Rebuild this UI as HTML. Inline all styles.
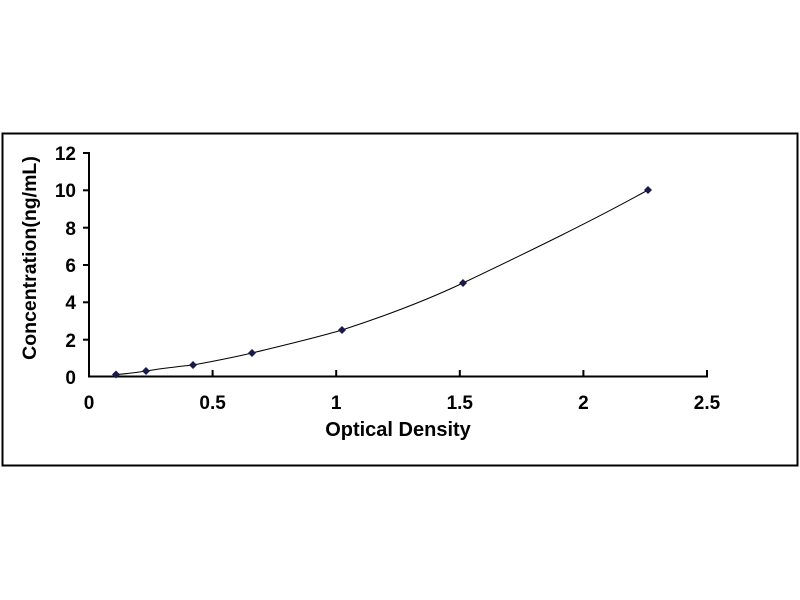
<!DOCTYPE html>
<html><head><meta charset="utf-8"><style>
body{margin:0;background:#fff;}
svg{display:block;font-family:"Liberation Sans",Arial,sans-serif;font-weight:bold;}
</style></head><body>
<svg width="800" height="600" viewBox="0 0 800 600">
<rect x="2.5" y="133.5" width="795" height="332" fill="#fff" stroke="#000" stroke-width="2"/>
<g stroke="#000" stroke-width="2" fill="none">
<line x1="89" y1="152" x2="89" y2="377"/>
<line x1="88" y1="376.5" x2="708" y2="376.5"/>
<line x1="83" y1="153" x2="89" y2="153"/>
<line x1="83" y1="190.3" x2="89" y2="190.3"/>
<line x1="83" y1="227.7" x2="89" y2="227.7"/>
<line x1="83" y1="265" x2="89" y2="265"/>
<line x1="83" y1="302.3" x2="89" y2="302.3"/>
<line x1="83" y1="339.7" x2="89" y2="339.7"/>
<line x1="212.6" y1="370" x2="212.6" y2="377"/>
<line x1="336.2" y1="370" x2="336.2" y2="377"/>
<line x1="459.8" y1="370" x2="459.8" y2="377"/>
<line x1="583.4" y1="370" x2="583.4" y2="377"/>
<line x1="707" y1="370" x2="707" y2="377"/>
</g>
<g font-size="19" text-anchor="end" fill="#000">
<text x="76" y="160">12</text>
<text x="76" y="197">10</text>
<text x="76" y="235">8</text>
<text x="76" y="272">6</text>
<text x="76" y="309">4</text>
<text x="76" y="347">2</text>
<text x="76" y="384">0</text>
</g>
<g font-size="19" text-anchor="middle" fill="#000">
<text x="89" y="409">0</text>
<text x="212.6" y="409">0.5</text>
<text x="336.2" y="409">1</text>
<text x="459.8" y="409">1.5</text>
<text x="583.4" y="409">2</text>
<text x="707" y="409">2.5</text>
<text x="398" y="436" font-size="20">Optical Density</text>
<text transform="translate(36,258) rotate(-90)" font-size="19.5">Concentration(ng/mL)</text>
</g>
<path d="M116,374.5 C130,373.5 140,372 146,371 C165,368 180,366.5 193,365 C215,361 235,357 252,353 C285,345 315,338 342,330 C385,316 425,301 463,283 C530,251 590,222 648,190" fill="none" stroke="#000" stroke-width="1"/>
<g fill="#1a1a4a">
<path d="M116,370.5 l4,4 l-4,4 l-4,-4z"/>
<path d="M146,367 l4,4 l-4,4 l-4,-4z"/>
<path d="M193,361 l4,4 l-4,4 l-4,-4z"/>
<path d="M252,349 l4,4 l-4,4 l-4,-4z"/>
<path d="M342,326 l4,4 l-4,4 l-4,-4z"/>
<path d="M463,279 l4,4 l-4,4 l-4,-4z"/>
<path d="M648,186 l4,4 l-4,4 l-4,-4z"/>
</g>
</svg>
</body></html>
